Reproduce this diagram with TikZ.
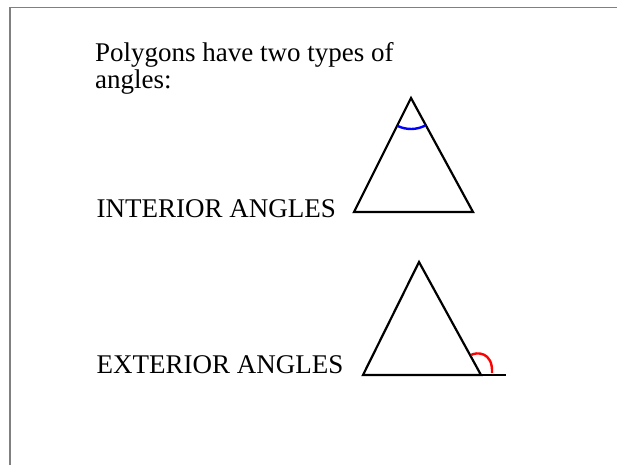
\documentclass[tikz,border=0pt]{standalone}
\usepackage{fontspec}
\setmainfont{Liberation Serif}
\usetikzlibrary{positioning}

\begin{document}
\begin{tikzpicture}[x=1pt, y=1pt,
    tri/.style={line width=2.2pt, line join=miter},
    frameline/.style={line width=1.6pt, gray},
    innerangle/.style={blue, line width=2.4pt},
    outerangle/.style={red, line width=2.4pt},
    txt/.style={anchor=base west, inner sep=0pt, font=\fontsize{27}{27}\selectfont}]

  \useasboundingbox (0,0) rectangle (617,465);

  % --- frame (top and left edges) ---
  \draw[frameline] (10,0) -- (10,457.5) -- (617,457.5);

  % --- heading ---
  \node[txt, align=left] (head) at (95,376) {Polygons have two types of\\angles:};

  % --- interior angles ---
  \node[txt] (intlabel) at (96.5,247) {INTERIOR ANGLES};
  \coordinate (intTop) at (411,367);
  \coordinate (intLeft) at (354,253);
  \coordinate (intRight) at (473,253);
  \draw[tri] (intTop) -- (intRight) -- (intLeft) -- cycle;
  \draw[innerangle] (intTop) ++(244:31) arc[start angle=244, end angle=298, radius=31];

  % --- exterior angles ---
  \node[txt] (extlabel) at (96.5,91) {EXTERIOR ANGLES};
  \coordinate (extTop) at (419,203);
  \coordinate (extLeft) at (363,90);
  \coordinate (extRight) at (481,90);
  \coordinate (extEnd) at (506,90);
  \draw[tri] (extTop) -- (extRight) -- (extLeft) -- cycle;
  \draw[tri] (extRight) -- (extEnd);
  \draw[outerangle] (471,110) .. controls (476,113) and (493,114) .. (492,92);

\end{tikzpicture}
\end{document}
